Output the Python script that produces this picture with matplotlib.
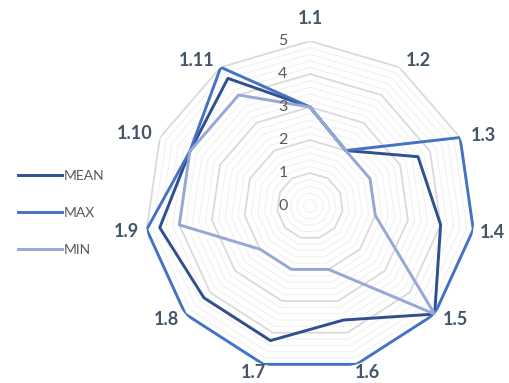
import numpy as np
import matplotlib
matplotlib.use("Agg")
import matplotlib.pyplot as plt

categories = ["1.1", "1.2", "1.3", "1.4", "1.5", "1.6", "1.7", "1.8", "1.9", "1.10", "1.11"]
mean_vals = [3, 2, 3.6, 4.0, 5, 3.6, 4.25, 4.25, 4.6, 4, 4.6]
max_vals = [3, 2, 5, 5, 5, 5, 5, 5, 5, 4, 5]
min_vals = [3, 2, 2, 2, 5, 2, 2, 2, 4, 4, 4]
tick_labels = ["0", "1", "2", "3", "4", "5"]

series = [("MEAN", mean_vals, "#2F4F8F"), ("MAX", max_vals, "#4472C4"), ("MIN", min_vals, "#97A8D6")]

# pixel offsets of category labels from the outer vertex (layout only)
label_offsets = [(0, 23), (19, 7), (23, 2), (19, -3), (21, -5), (11, -8),
                 (-10, -8), (-19, -5), (-20, -2), (-25, 4), (-24, 7)]

n = len(categories)
theta = np.linspace(0, 2 * np.pi, n, endpoint=False)
theta_c = np.append(theta, theta[0])

fig = plt.figure(figsize=(5.10, 3.83), dpi=100)
ax = fig.add_axes([0.2843, 0.0312, 0.647, 0.8616], projection="polar")
ax.set_theta_zero_location("N")
ax.set_theta_direction(-1)
ax.set_ylim(0, 5)
ax.grid(False)
ax.spines["polar"].set_visible(False)
ax.set_yticks([])
ax.set_xticks([])
ax.patch.set_alpha(0)

# polygon gridlines
for r in np.arange(0.2, 5.01, 0.2):
    major = abs(r - round(r)) < 1e-6
    ax.plot(theta_c, [r] * (n + 1), color="#DADADA" if major else "#F1F1F1",
            lw=1.3 if major else 0.8, zorder=1)

handles = []
for name, vals, col in series:
    v = list(vals) + [vals[0]]
    h, = ax.plot(theta_c, v, color=col, lw=2.1, zorder=3, label=name)
    handles.append(h)

# radial tick labels along the vertical axis
for i, t in enumerate(tick_labels):
    ax.annotate(t, xy=(0, i), xycoords="data", xytext=(-27, 0),
                textcoords="offset pixels", fontsize=11.5, color="#595959",
                ha="center", va="center", family="Lato", annotation_clip=False)

# category labels
for ang, lab, off in zip(theta, categories, label_offsets):
    ax.annotate(lab, xy=(ang, 5), xycoords="data", xytext=off,
                textcoords="offset pixels", fontsize=13, fontweight="bold",
                color="#44546A", ha="center", va="center", family="Lato",
                annotation_clip=False)

fig.legend(handles=handles, labels=[s[0] for s in series], loc="center left",
           bbox_to_anchor=(0.01, 0.445), frameon=False,
           handlelength=3.2, handletextpad=0.15, labelspacing=1.8,
           labelcolor="#595959", prop={"family": "Lato", "size": 10})

fig.savefig("out.png", dpi=100)
